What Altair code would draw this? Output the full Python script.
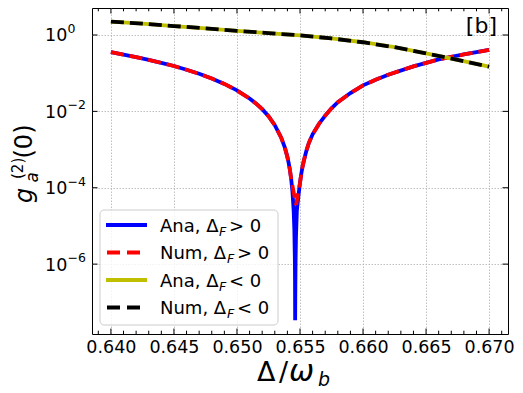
import altair as alt
import pandas as pd

# ---------------- data ----------------
# Delta_F > 0, analytic (blue, solid)
x_ana_pos = [0.640, 0.641, 0.642, 0.643, 0.644, 0.645, 0.646, 0.647, 0.648, 0.649,
             0.650, 0.651, 0.6515, 0.652, 0.6525, 0.653, 0.6535, 0.6538, 0.654, 0.6541,
             0.6542, 0.6543, 0.6544, 0.6545, 0.65455, 0.65459, 0.654605, 0.654615,
             0.65463, 0.65465, 0.65468, 0.65475, 0.6549, 0.6550, 0.6551, 0.6552,
             0.6553, 0.6555, 0.6557, 0.656, 0.6565, 0.657, 0.6575, 0.658, 0.659,
             0.660, 0.661, 0.662, 0.664, 0.666, 0.668, 0.670]
g_ana_pos = [0.355, 0.308, 0.263, 0.224, 0.186, 0.154, 0.123, 0.0964, 0.0724, 0.0524,
             0.0354, 0.0217, 0.0162, 0.0114, 7.46e-3, 4.36e-3, 2.08e-3, 1.12e-3, 6.38e-4, 4.49e-4,
             2.92e-4, 1.70e-4, 8.0e-5, 2.40e-5, 8.1e-6, 1.49e-6, 3.7e-7, 3.39e-8,
             2.51e-7, 1.26e-6, 5.0e-6, 2.51e-5, 7.2e-5, 1.35e-4, 2.29e-4, 3.55e-4,
             5.0e-4, 9.1e-4, 1.48e-3, 2.51e-3, 4.68e-3, 7.76e-3, 0.0120, 0.0174, 0.0302,
             0.0479, 0.0676, 0.0912, 0.151, 0.229, 0.309, 0.407]
# Delta_F > 0, numerical (red, dashed)
x_num_pos = [0.640, 0.641, 0.642, 0.643, 0.644, 0.645, 0.646, 0.647, 0.648, 0.649,
             0.650, 0.651, 0.6515, 0.652, 0.6525, 0.653, 0.6535, 0.6538, 0.654, 0.6541,
             0.6542, 0.6543, 0.65469, 0.6550, 0.6551, 0.6552, 0.6553, 0.6555, 0.6557,
             0.656, 0.6565, 0.657, 0.6575, 0.658, 0.659, 0.660, 0.661, 0.662, 0.664,
             0.666, 0.668, 0.670]
g_num_pos = [0.355, 0.308, 0.263, 0.224, 0.186, 0.154, 0.123, 0.0964, 0.0724, 0.0524,
             0.0354, 0.0217, 0.0162, 0.0114, 7.46e-3, 4.36e-3, 2.08e-3, 1.12e-3, 6.38e-4, 4.49e-4,
             2.92e-4, 1.70e-4, 3.55e-5, 1.35e-4, 2.29e-4, 3.55e-4, 5.0e-4, 9.1e-4, 1.48e-3,
             2.51e-3, 4.68e-3, 7.76e-3, 0.0120, 0.0174, 0.0302, 0.0479, 0.0676, 0.0912, 0.151,
             0.229, 0.309, 0.407]
# Delta_F < 0 (yellow analytic / black numerical)
x_neg = [0.640, 0.6425, 0.645, 0.6475, 0.650, 0.6525, 0.655, 0.6575, 0.660, 0.6625,
         0.665, 0.6675, 0.670]
g_ana_neg = [2.239, 1.995, 1.718, 1.496, 1.288, 1.122, 0.977, 0.813, 0.646, 0.479,
             0.331, 0.224, 0.148]
g_num_neg = [2.239, 1.995, 1.718, 1.496, 1.288, 1.122, 0.977, 0.813, 0.646, 0.479,
             0.331, 0.224, 0.148]

x_ticks = [0.640, 0.645, 0.650, 0.655, 0.660, 0.665, 0.670]
x_minor = [0.639, 0.641, 0.642, 0.643, 0.644, 0.646, 0.647, 0.648, 0.649, 0.651,
           0.652, 0.653, 0.654, 0.656, 0.657, 0.658, 0.659, 0.661, 0.662, 0.663,
           0.664, 0.666, 0.667, 0.668, 0.669, 0.671]
y_ticks = [1e-6, 1e-4, 1e-2, 1.0]
y_tick_exp = ["\u22126", "\u22124", "\u22122", "0"]

legend_labels = ["Ana, \u0394", "Num, \u0394", "Ana, \u0394", "Num, \u0394"]
legend_rel = ["> 0", "> 0", "< 0", "< 0"]

# ---------------- layout ----------------
W, H = 416, 326
FONT = "DejaVu Sans"

xscale = alt.Scale(domain=[0.6385, 0.6715], nice=False, zero=False)
yscale = alt.Scale(type="log", domain=[10 ** -7.83, 10 ** 0.707], nice=False)

x_axis = alt.Axis(values=x_ticks, format=".3f", grid=True, gridColor="#b0b0b0",
                  gridDash=[1.5, 1.5], gridWidth=0.8, ticks=False, domain=False,
                  labelFontSize=17.5, labelFont=FONT, labelColor="black",
                  labelPadding=4, labelOverlap=False, labelFlush=False)
y_axis = alt.Axis(values=y_ticks, grid=True, gridColor="#b0b0b0", gridDash=[1.5, 1.5],
                  gridWidth=0.8, ticks=False, domain=False, labels=False)

X = alt.X("x:Q", scale=xscale, axis=x_axis, title=None)
Y = alt.Y("y:Q", scale=yscale, axis=y_axis, title=None)

one = pd.DataFrame({"k": [0]})


def line(xs, ys, color, dash=None, width=3.8):
    df = pd.DataFrame({"x": xs, "y": ys})
    kw = dict(color=color, strokeWidth=width, clip=True)
    if dash is not None:
        kw["strokeDash"] = dash
    return alt.Chart(df).mark_line(**kw).encode(x=X, y=Y)


def text(t, x, y, size, italic=False, angle=0, align="left", baseline="alphabetic"):
    kw = dict(text=t, fontSize=size, font=FONT, color="black", align=align,
              baseline=baseline)
    if italic:
        kw["fontStyle"] = "italic"
    if angle:
        kw["angle"] = angle
    return alt.Chart(one).mark_text(**kw).encode(x=alt.value(x), y=alt.value(y))


layers = []
# curves
layers.append(line(x_ana_pos, g_ana_pos, "#0000ff"))
layers.append(line(x_num_pos, g_num_pos, "#ff0000", dash=[13, 6]))
layers.append(line(x_neg, g_ana_neg, "#bfbf00"))
layers.append(line(x_neg, g_num_neg, "#000000", dash=[13, 6]))

# inward ticks
xt = pd.DataFrame({"x": x_ticks})
xm = pd.DataFrame({"x": x_minor})
yt = pd.DataFrame({"y": y_ticks, "e": y_tick_exp})
for df, ln in ((xt, 5.5), (xm, 3.3)):
    layers.append(alt.Chart(df).mark_rule(color="black", strokeWidth=1)
                  .encode(x=X, y=alt.value(H), y2=alt.value(H - ln)))
    layers.append(alt.Chart(df).mark_rule(color="black", strokeWidth=1)
                  .encode(x=X, y=alt.value(0), y2=alt.value(ln)))
layers.append(alt.Chart(yt).mark_rule(color="black", strokeWidth=1)
              .encode(y=Y, x=alt.value(0), x2=alt.value(5.5)))
layers.append(alt.Chart(yt).mark_rule(color="black", strokeWidth=1)
              .encode(y=Y, x=alt.value(W), x2=alt.value(W - 5.5)))

# y tick labels 10^n
layers.append(alt.Chart(yt).mark_text(text="10", fontSize=17.5, font=FONT, color="black",
                                      align="left", baseline="alphabetic", dy=6.5)
              .encode(y=Y, x=alt.value(-47)))
layers.append(alt.Chart(yt).mark_text(fontSize=12.5, font=FONT, color="black",
                                      align="left", baseline="alphabetic", dy=-2)
              .encode(y=Y, x=alt.value(-24.5), text="e:N"))

# legend
layers.append(alt.Chart(one).mark_rect(fill="white", fillOpacity=0.8, stroke="#cccccc",
                                       strokeWidth=1, cornerRadius=4)
              .encode(x=alt.value(8), x2=alt.value(186), y=alt.value(202), y2=alt.value(317)))
rows = [217, 244.5, 272, 299.5]
leg_colors = ["#0000ff", "#ff0000", "#bfbf00", "#000000"]
leg_dash = [None, [13, 7], None, [13, 7]]
for i in range(4):
    kw = dict(color=leg_colors[i], strokeWidth=3.8)
    if leg_dash[i] is not None:
        kw["strokeDash"] = leg_dash[i]
        x0, x1 = 15, 48
    else:
        x0, x1 = 14, 55
    layers.append(alt.Chart(one).mark_rule(**kw)
                  .encode(x=alt.value(x0), x2=alt.value(x1), y=alt.value(rows[i])))
    base = rows[i] + 6.5
    layers.append(text(legend_labels[i], 68, base, 18))
    fx = 127 if legend_labels[i].startswith("Ana") else 135
    layers.append(text("F", fx, base + 4, 12.6, italic=True))
    layers.append(text(legend_rel[i], fx + 10, base, 18))

# panel tag
layers.append(text("[b]", 405, 25, 22, align="right"))

# x title  Δ/ω_b
layers.append(text("\u0394", 165, 373, 27))
layers.append(text("/", 187, 373, 27))
layers.append(text("\u03c9", 197, 373, 30, italic=True))
layers.append(text("b", 226, 378, 19, italic=True))

# y title  g_a^(2)(0)  (rotated)
layers.append(text("g", -60, 195, 24, italic=True, angle=270))
layers.append(text("a", -54, 174.5, 16.8, italic=True, angle=270))
layers.append(text("(2)", -69, 171, 15, angle=270))
layers.append(text("(0)", -60, 150.5, 24, angle=270))

chart = alt.layer(*layers).properties(
    width=W, height=H,
    autosize=alt.AutoSizeParams(type="none"),
    padding={"left": 84, "top": 0, "right": 7, "bottom": 60},
).configure_view(stroke="black", strokeWidth=1)

chart.save("out.html", embed_options={"renderer": "svg", "actions": False})
